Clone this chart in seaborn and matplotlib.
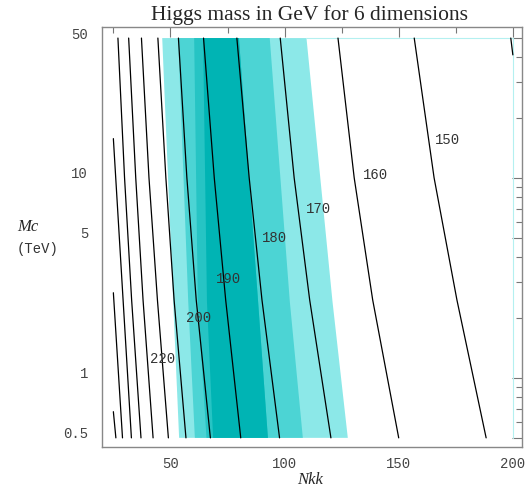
import matplotlib
matplotlib.use("Agg")
import matplotlib.pyplot as plt
from matplotlib.ticker import FixedLocator, NullFormatter
from matplotlib.transforms import ScaledTranslation
import numpy as np
import pandas as pd
import seaborn as sns

title = "Higgs mass in GeV for 6 dimensions"

# contour lines: Nkk where each line crosses Mc = 50, 10, 2.45 and 0.5 TeV
line_mc = [50, 10, 2.45, 0.5]
levels = [150, 160, 170, 180, 190, 200, 210, 220, 230, 240]
nkk_top = [156.8, 123.4, 98.1, 79.1, 64.5, 53.5, 44.5, 37.3, 31.7, 27.0]
nkk_10 = [165.5, 130.5, 104.2, 84.5, 69.2, 57.2, 48.0, 40.6, 34.8, 29.9]
nkk_mid = [175.5, 138.6, 111.0, 90.1, 74.2, 61.3, 51.6, 44.3, 38.0, 33.0]
nkk_bot = [188.3, 150.0, 120.3, 97.8, 80.8, 67.5, 56.8, 49.1, 42.4, 37.1]

# lines that run into the side edges of the plotted region
edge_levels = [140, 250, 260, 270]
edge_nkk0 = [199.1, 25.0, 25.0, 25.0]
edge_mc0 = [50, 15.7, 2.66, 0.676]
edge_nkk1 = [200.0, 32.9, 29.0, 26.1]
edge_mc1 = [41.2, 0.5, 0.5, 0.5]

# shaded bands: left / right edges at Mc = 50, 2.4, 0.5
band_mc = [50, 2.4, 0.5]
light_lo = [46.4, 51.2, 53.8]
light_hi = [109.6, 121.0, 127.7]
medium_lo = [53.4, 57.8, 60.7]
medium_hi = [93.5, 102.3, 108.0]
deep_lo = [60.4, 62.0, 65.8]
dark_lo = [64.3, 66.0, 68.7]
dark_hi = [80.0, 88.4, 92.7]

# contour labels
lab_text = ["150", "160", "170", "180", "190", "200", "220"]
lab_nkk = [171.5, 140.0, 115.0, 95.7, 75.6, 62.4, 46.5]
lab_mc = [15.5, 10.3, 7.0, 5.0, 3.12, 1.99, 1.24]

nkk_range = [25, 200]
mc_range = [0.5, 50]

sns.set_style("white")
plt.rcParams['font.family'] = ['Liberation Serif', 'DejaVu Serif']
mono = ['Liberation Mono', 'DejaVu Sans Mono']

fig = plt.figure(figsize=(5.31, 4.91), dpi=100)
ax = fig.add_axes([0.192, 0.0896, 0.791, 0.8548])
ax.set_yscale('log')

# bands
def band(lo, hi, col):
    xs = np.r_[lo, hi[::-1]]
    ys = np.r_[band_mc, band_mc[::-1]]
    ax.fill(xs, ys, color=col, lw=0, zorder=1)

band(light_lo, light_hi, '#8ce8e8')
band(medium_lo, medium_hi, '#4cd4d4')
band(deep_lo, dark_hi, '#26c4c4')
band(dark_lo, dark_hi, '#00b4b4')

# thin edge of the white region
ax.plot([light_hi[0], nkk_range[1], nkk_range[1]], [mc_range[1], mc_range[1], mc_range[0]],
        color='#b4f0f0', lw=0.8, zorder=1)

# contour lines
rows = []
for i, lev in enumerate(levels):
    for nk, mc in zip([nkk_top[i], nkk_10[i], nkk_mid[i], nkk_bot[i]], line_mc):
        rows.append((lev, nk, mc))
for i, lev in enumerate(edge_levels):
    rows.append((lev, edge_nkk0[i], edge_mc0[i]))
    rows.append((lev, edge_nkk1[i], edge_mc1[i]))
df = pd.DataFrame(rows, columns=['level', 'Nkk', 'Mc'])
sns.lineplot(data=df, x='Nkk', y='Mc', units='level', estimator=None, sort=False,
             color='k', lw=0.9, ax=ax, zorder=3)

for t, x, y in zip(lab_text, lab_nkk, lab_mc):
    ax.text(x, y, t, ha='center', va='center', fontsize=10, color='#333333',
            family=mono, zorder=4)

ax.set_xlim(20, 204)
ax.set_ylim(0.45, 56.6)

ax.xaxis.set_major_locator(FixedLocator([50, 100, 150, 200]))
ax.xaxis.set_minor_locator(FixedLocator([25, 75, 125, 175]))
ax.yaxis.set_major_locator(FixedLocator([0.5, 1, 5, 10, 50]))
ax.yaxis.set_minor_locator(FixedLocator([0.6, 0.7, 0.8, 0.9, 2, 3, 4, 6, 7, 8, 9, 20, 30, 40]))
ax.set_yticklabels(['0.5', '1', '5', '10', '50'])
ax.yaxis.set_minor_formatter(NullFormatter())
ax.tick_params(which='both', direction='in', top=True, right=True, color='#777777', width=0.8)
ax.tick_params(which='major', length=7)
ax.tick_params(which='minor', length=4)
ax.tick_params(axis='x', which='major', pad=7)
ax.tick_params(axis='y', which='major', pad=10)
for lab in ax.get_xticklabels() + ax.get_yticklabels():
    lab.set_family(mono)
    lab.set_fontsize(10)
    lab.set_color('#444444')
for lab in ax.get_yticklabels():
    lab.set_transform(lab.get_transform() + ScaledTranslation(0, 0.05, fig.dpi_scale_trans))

for sp in ax.spines.values():
    sp.set_color('#888888')
    sp.set_linewidth(1.0)

ax.set_xlabel('')
ax.set_ylabel('')
fig.text(0.584, 0.022, 'Nkk', ha='center', va='center', fontsize=12, style='italic')
fig.text(0.053, 0.537, 'Mc', ha='center', va='center', fontsize=12, style='italic')
fig.text(0.07, 0.493, '(TeV)', ha='center', va='center', fontsize=10,
         family=mono, color='#333333')
fig.text(0.582, 0.970, title, ha='center', va='center', fontsize=15.5)

fig.savefig('out.png', dpi=100)
